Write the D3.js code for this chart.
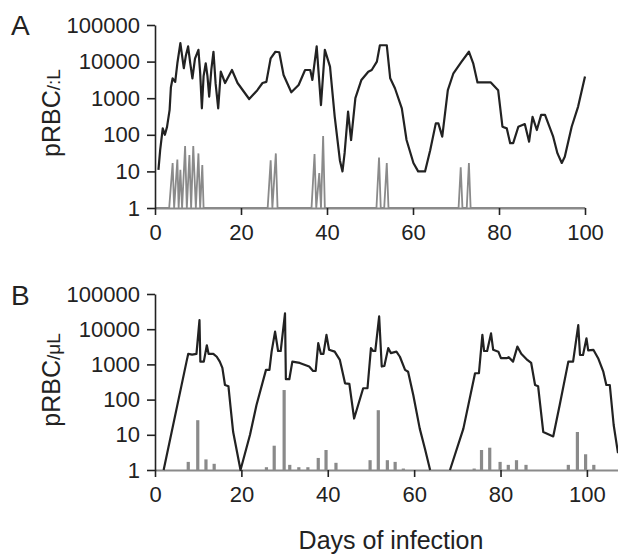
<!DOCTYPE html>
<html><head><meta charset="utf-8">
<script src="https://cdn.jsdelivr.net/npm/d3@7"></script>
<style>
html,body{margin:0;padding:0;background:#fff;}
svg{display:block;font-family:"Liberation Sans",Arial,sans-serif;}
</style></head><body>
<svg id="c" width="618" height="554"></svg>
<script>
// ---- Data ----
const yTicks = [1, 10, 100, 1000, 10000, 100000];
const xTicksA = [0, 20, 40, 60, 80, 100];
const xTicksB = [0, 20, 40, 60, 80, 100];

// Panel A: parasitemia (black line)
const daysA = [0.8,1.2,1.8,2.3,2.8,3.4,3.7,4.1,4.7,5.2,5.9,6.7,7.2,7.7,8.2,8.7,9.3,10.1,10.5,10.9,11.3,11.8,12.2,12.6,13.1,13.6,14.1,14.7,15.3,16.3,17.9,19.2,21.9,23.8,25.0,25.9,26.9,28.0,28.9,29.9,31.7,33.4,34.9,36.1,36.6,37.6,38.6,39.5,40.7,41.8,43.0,43.6,44.1,44.9,45.6,46.6,48.0,49.6,50.4,51.6,52.3,53.9,54.7,55.8,57.4,58.5,60.1,61.2,62.8,64.0,65.3,65.9,66.8,68.1,69.4,71.3,73.0,74.0,75.0,78.1,79.8,80.8,81.8,82.6,83.3,84.5,86.0,87.0,87.8,88.8,89.8,90.7,92.6,93.6,94.6,95.3,96.9,98.4,100];
const parA = [11,38,150,100,165,480,2000,3500,2800,9000,32000,6600,15000,26000,9000,3500,12000,21000,5000,530,4000,9000,4000,1100,6000,18600,2500,530,5300,2600,5900,2600,950,1660,2600,2800,12300,18600,18000,4300,1450,2300,5900,5900,3150,26000,650,21000,7300,310,20,10,32,430,72,1000,3150,5300,5900,10000,28000,28000,3500,1870,530,72,17,10,10,38,205,205,89,1660,4800,10000,18600,9000,2700,2700,1660,166,150,59,59,166,196,65,310,135,350,350,89,31,17,25,166,590,3900];

// Panel A: gametocytes (grey spikes)
const gDaysA = [0,3.3,4.1,4.45,5.2,5.5,5.9,6.3,7.0,7.4,8.0,8.4,8.9,9.5,10.1,10.5,11.0,11.3,26.2,26.9,27.3,28.1,28.5,36.4,37.1,37.5,38.2,38.6,39.1,39.5,51.5,52.1,52.5,53.3,53.9,54.3,70.6,71.1,71.5,72.5,73.0,73.4,100];
const gValsA = [1,1,17,1,21,1,11,1,49,1,28,1,49,1,31,1,15,1,1,20,1,31,1,1,30,1,9,1,93,1,1,24,1,1,17,1,1,13,1,1,17,1,1];

// Panel B: parasitemia (black line); null = not detected
const daysB = [2.0,7.3,7.7,8.6,9.6,10.3,10.5,11.3,12.0,12.4,13.5,14.3,15.0,15.6,16.2,17.0,17.5,18.1,19.8,22.0,23.5,25.7,26.5,27.0,27.8,28.5,29.1,30.1,30.3,31.1,31.8,33.5,35.7,36.6,37.2,37.8,38.4,39.0,39.7,40.3,41.6,42.8,44.0,45.0,46.1,48.2,49.2,50.0,50.5,51.0,51.9,52.5,53.1,54.0,54.6,55.9,56.7,57.9,58.6,59.8,61.3,62.5,63.7,66.0,68.3,71.4,74.1,75.0,75.8,76.2,76.9,77.8,78.3,79.5,80.1,81.4,81.9,82.9,83.9,84.8,86.2,87.1,88.0,88.7,89.9,92.2,93.7,95.7,96.8,98.0,98.4,99.1,99.9,100.3,101.5,102.6,103.8,104.5,105.3,106.2,107.2];
const parB = [1,1200,2000,1900,2000,18000,1200,1200,3500,2000,2000,1650,1200,800,260,240,60,12,1,10,70,700,700,2300,8500,2400,2400,28000,380,380,1200,1100,870,650,650,4000,2000,2000,6900,2600,2300,1340,290,280,29,210,210,2900,2400,2400,23000,870,900,2900,2100,2300,1650,700,620,135,15,4,1,null,1,15,560,560,6900,2400,2400,7600,2600,2300,1500,1500,1600,1200,3200,2000,1340,1100,260,240,12,9,70,1200,1200,13000,1850,1850,5500,2500,2600,1500,620,260,260,19,3];

// Panel B: gametocytes (grey bars)
const gDaysB = [7.7,9.9,11.8,13.7,25.8,27.6,29.9,31.2,33.3,35.4,37.8,39.6,41.9,49.8,51.7,53.8,55.6,57.5,73.9,75.6,77.5,79.9,81.8,83.7,85.9,95.7,97.8,99.7,101.6];
const gValsB = [1.7,26,2.0,1.5,1.2,4.9,187,1.4,1.2,1.2,2.2,3.7,1.6,1.9,50,1.9,1.7,1.1,1.1,3.7,4.3,1.7,1.4,1.9,1.4,1.4,12,2.8,1.4];

// ---- Drawing ----
const svg = d3.select("#c");
const dark = "#222", grey = "#8a8a8a";

function panel(cfg) {
  const g = svg.append("g");
  const x = d3.scaleLinear().domain(cfg.xDomain).range(cfg.xRange);
  const y = d3.scaleLog().domain([1, 100000]).range(cfg.yRange);

  // grey gametocyte series
  if (cfg.gType === "spike") {
    const pts = cfg.gDays.map((d, i) => [d, cfg.gVals[i]]);
    g.append("path").attr("d", d3.line().x(p => x(p[0])).y(p => y(p[1]))(pts))
      .attr("fill", "none").attr("stroke", grey).attr("stroke-width", 1.8);
  } else {
    g.selectAll("rect.gb").data(cfg.gDays.map((d, i) => [d, cfg.gVals[i]])).enter()
      .append("rect").attr("x", p => x(p[0]) - 1.6).attr("width", 3.2)
      .attr("y", p => y(p[1])).attr("height", p => y(1) - y(p[1]))
      .attr("fill", grey);
  }

  // x axis (grey baseline)
  const xa = g.append("g").attr("transform", `translate(0,${cfg.yRange[0]})`)
    .call(d3.axisBottom(x).tickValues(cfg.xTicks).tickFormat(d3.format("d")).tickSize(7).tickSizeOuter(0).tickPadding(9));
  xa.select(".domain").attr("stroke", grey).attr("stroke-width", 2.2);
  xa.selectAll(".tick line").attr("stroke", dark).attr("stroke-width", 1.6);
  xa.selectAll(".tick text").attr("font-size", 22).attr("fill", dark).attr("font-family", "Liberation Sans, Arial, sans-serif");

  // y axis
  const ya = g.append("g").attr("transform", `translate(${cfg.xRange[0]},0)`)
    .call(d3.axisLeft(y).tickValues(yTicks).tickFormat(d3.format("d")).tickSize(8).tickSizeOuter(0).tickPadding(7));
  ya.select(".domain").attr("stroke", dark).attr("stroke-width", 1.6);
  ya.selectAll(".tick line").attr("stroke", dark).attr("stroke-width", 1.6);
  ya.selectAll(".tick text").attr("font-size", 22).attr("fill", dark).attr("font-family", "Liberation Sans, Arial, sans-serif");

  // parasitemia line
  const pts = cfg.days.map((d, i) => [d, cfg.vals[i]]);
  g.append("path").attr("d", d3.line().defined(p => p[1] != null).x(p => x(p[0])).y(p => y(p[1]))(pts))
    .attr("fill", "none").attr("stroke", dark).attr("stroke-width", 2.2).attr("stroke-linejoin", "round");

  // panel letter
  g.append("text").attr("x", 11).attr("y", cfg.letterY).attr("font-size", 28).attr("fill", dark).text(cfg.letter);

  // y label
  const t = g.append("text").attr("transform", `translate(60,${cfg.labelY}) rotate(-90)`)
    .attr("text-anchor", "middle").attr("font-size", 25).attr("fill", dark);
  t.append("tspan").text("pRBC");
  t.append("tspan").attr("font-size", 19).text(cfg.unit);
}

panel({xDomain: [0, 100], xRange: [155, 585], yRange: [208, 25], xTicks: xTicksA,
  days: daysA, vals: parA, gDays: gDaysA, gVals: gValsA, gType: "spike",
  letter: "A", letterY: 35, labelY: 113, unit: "/:L"});
panel({xDomain: [0, 107.2], xRange: [155, 618], yRange: [470, 294], xTicks: xTicksB,
  days: daysB, vals: parB, gDays: gDaysB, gVals: gValsB, gType: "bar",
  letter: "B", letterY: 305, labelY: 380, unit: "/μL"});

svg.append("text").attr("x", 391).attr("y", 549).attr("text-anchor", "middle")
  .attr("font-size", 25).attr("fill", dark).text("Days of infection");
</script>
</body></html>
